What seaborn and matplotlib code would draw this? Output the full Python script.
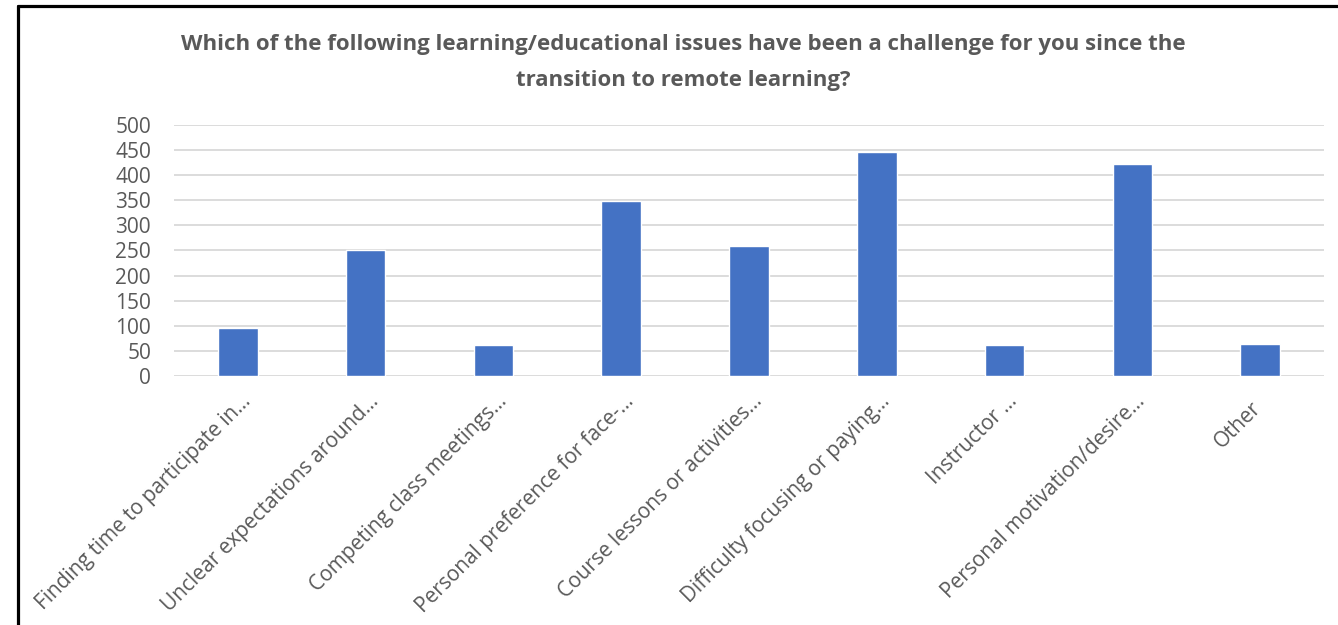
import matplotlib.pyplot as plt
import matplotlib.transforms as mtransforms
import seaborn as sns
import pandas as pd
from matplotlib.lines import Line2D

# data
issues = [
    "Finding time to participate in…",
    "Unclear expectations around…",
    "Competing class meetings…",
    "Personal preference for face-…",
    "Course lessons or activities…",
    "Difficulty focusing or paying…",
    "Instructor …",
    "Personal motivation/desire…",
    "Other",
]
counts = [96, 251, 61, 349, 258, 446, 62, 422, 63]
yticks = [0, 50, 100, 150, 200, 250, 300, 350, 400, 450, 500]

title = ("Which of the following learning/educational issues have been a challenge for you since the\n"
         "transition to remote learning?")

sns.set_style("white")
plt.rcParams['font.family'] = ['Open Sans', 'DejaVu Sans']

df = pd.DataFrame({"issue": issues, "count": counts})

fig = plt.figure(figsize=(13.38, 6.25), dpi=100)
ax = fig.add_axes([174/1338, 1-376/625, (1324-174)/1338, (376-125)/625])

sns.barplot(data=df, x="issue", y="count", color="#4472C4", saturation=1,
            width=0.31, ax=ax, zorder=3)

ax.set_ylim(0, 500)
ax.set_xlim(-0.5, len(issues) - 0.5)
ax.set_yticks(yticks)
ax.yaxis.grid(True, color="#D9D9D9", linewidth=1.3, zorder=0)
ax.set_axisbelow(True)
for s in ax.spines.values():
    s.set_visible(False)
ax.tick_params(axis='y', length=0, labelsize=15, labelcolor="#595959", pad=16.5)
ax.tick_params(axis='x', length=0, labelsize=15, labelcolor="#595959", pad=8)
ax.set_xlabel("")
ax.set_ylabel("")
# excel pushes truncated labels a bit further out than full ones
shift_trunc = mtransforms.ScaledTranslation(0.10, -0.11, fig.dpi_scale_trans)
shift_full = mtransforms.ScaledTranslation(-0.02, -0.18, fig.dpi_scale_trans)
for lab in ax.get_xticklabels():
    lab.set_rotation(45)
    lab.set_ha("right")
    lab.set_va("center")
    lab.set_rotation_mode("anchor")
    sh = shift_trunc if lab.get_text().endswith("…") else shift_full
    lab.set_transform(lab.get_transform() + sh)

fig.text(0.511, 0.945, title, ha="center", va="top", fontsize=16,
         fontweight="bold", color="#595959", linespacing=1.9)

# frame around the chart area
fig.add_artist(Line2D([18/1338, 18/1338], [0, 1-6/625], color="black", lw=2.3))
fig.add_artist(Line2D([18/1338, 1], [1-6/625, 1-6/625], color="black", lw=2.3))

fig.savefig("out.png", dpi=100)
